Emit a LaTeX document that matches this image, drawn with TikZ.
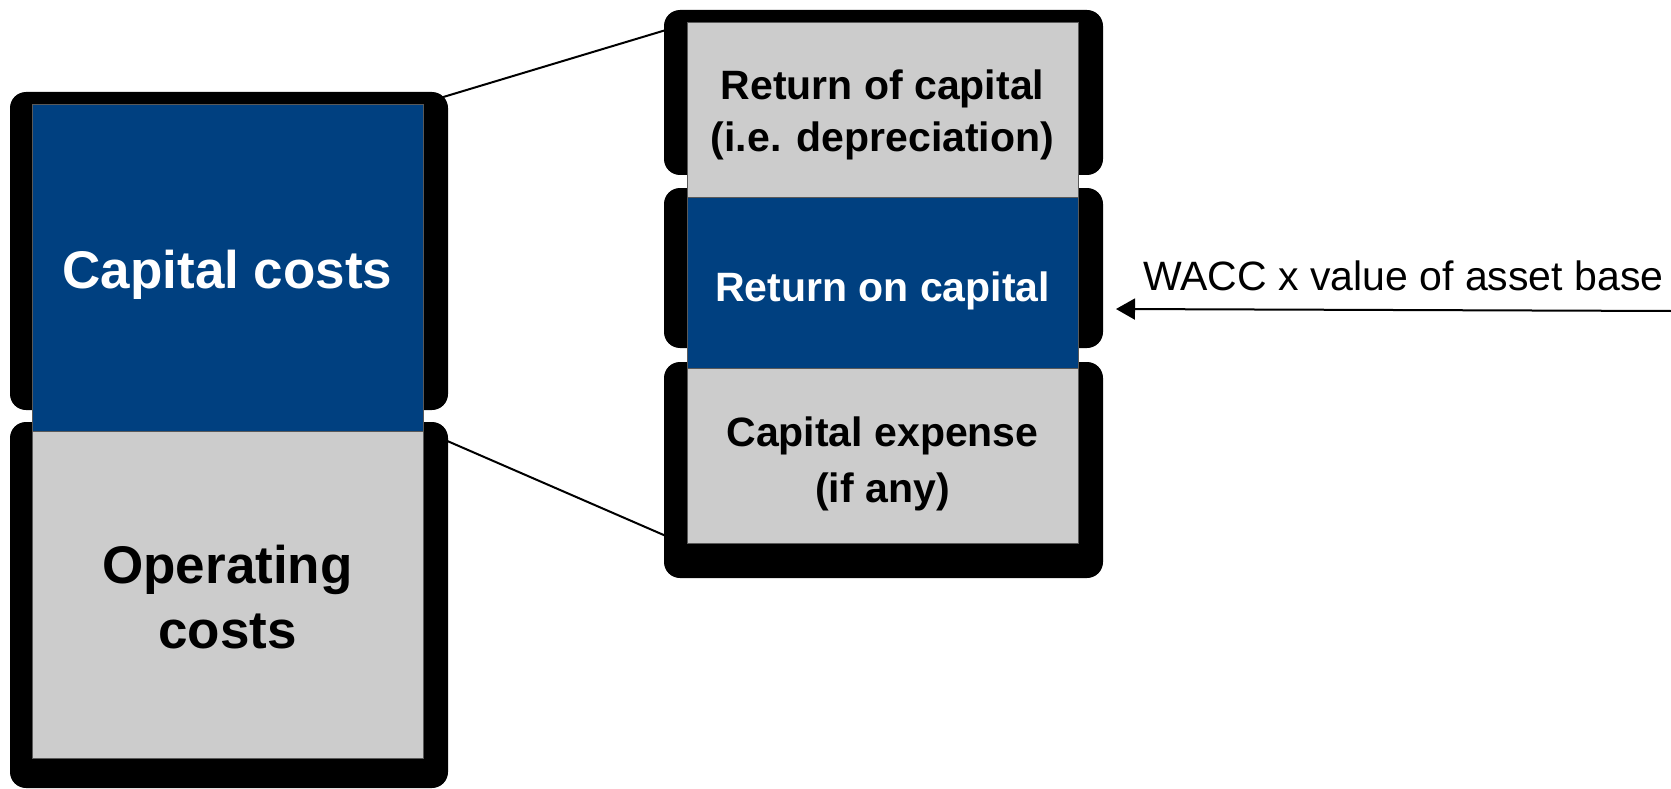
\documentclass[tikz,border=0pt]{standalone}
\usepackage{fontspec}
\setmainfont{Liberation Sans}
\usetikzlibrary{arrows.meta}
\definecolor{capblue}{RGB}{0,64,128}
\definecolor{capgray}{RGB}{204,204,204}
\begin{document}
\begin{tikzpicture}[x=1pt,y=-1pt,
  shadowbox/.style={fill=black,draw=none,rounded corners=16pt,inner sep=0pt,outer sep=0pt},
  costbox/.style={draw=black!65,line width=1pt,inner sep=0pt,outer sep=0pt},
  bluebox/.style={costbox,fill=capblue},
  graybox/.style={costbox,fill=capgray},
  whitelbl/.style={text=white,align=center,inner sep=0pt},
  blacklbl/.style={text=black,align=center,inner sep=0pt},
  bigtext/.style={font=\fontsize{53}{65}\selectfont\bfseries},
  midtext/.style={font=\fontsize{41}{52}\selectfont\bfseries},
  lowtext/.style={font=\fontsize{41}{56}\selectfont\bfseries},
  link/.style={draw=black,line width=2pt},
  arrowline/.style={draw=black,line width=2pt,-{Triangle[length=19pt,width=21pt]}}
]
\useasboundingbox (0,0) rectangle (1671,789);
% shadow shapes
\node[shadowbox,minimum width=438pt,minimum height=318pt] (s1) at (229,251) {};
\node[shadowbox,minimum width=438pt,minimum height=366pt] (s2) at (229,605) {};
\node[shadowbox,minimum width=439pt,minimum height=165pt] (s3) at (883.5,92.5) {};
\node[shadowbox,minimum width=439pt,minimum height=160pt] (s4) at (883.5,268) {};
\node[shadowbox,minimum width=439pt,minimum height=216pt] (s5) at (883.5,470) {};
% left stack
\node[bluebox,minimum width=391pt,minimum height=326pt,
  label={[whitelbl,bigtext,yshift=-7pt]center:Capital costs}] (cap) at (227.5,268) {};
\node[graybox,minimum width=391pt,minimum height=327pt,
  label={[blacklbl,bigtext,yshift=-3pt]center:Operating\\costs}] (op) at (227.5,594.5) {};
% right stack
\node[graybox,minimum width=391pt,minimum height=174pt,
  label={[blacklbl,midtext,yshift=-5pt]center:Return of capital\\(i.e. depreciation)}] (rof) at (882.5,110) {};
\node[bluebox,minimum width=391pt,minimum height=171pt,
  label={[whitelbl,midtext,yshift=-8pt]center:Return on capital}] (ron) at (882.5,282.5) {};
\node[graybox,minimum width=391pt,minimum height=175pt,
  label={[blacklbl,lowtext,yshift=-8pt]center:Capital expense\\(if any)}] (cex) at (882.5,455.5) {};
% connector end points
\coordinate (lt) at (440,98);
\coordinate (rt) at (666,30);
\coordinate (lb) at (445,440);
\coordinate (rb) at (666,536);
\draw[link] (lt) -- (rt);
\draw[link] (lb) -- (rb);
% WACC arrow
\node[anchor=base west,inner sep=0pt,font=\fontsize{41}{49}\selectfont] (wacc) at (1143,290) {WACC x value of asset base};
\coordinate (astart) at (1671,311);
\coordinate (aend) at (1116,309);
\draw[arrowline] (astart) -- (aend);
\end{tikzpicture}
\end{document}
